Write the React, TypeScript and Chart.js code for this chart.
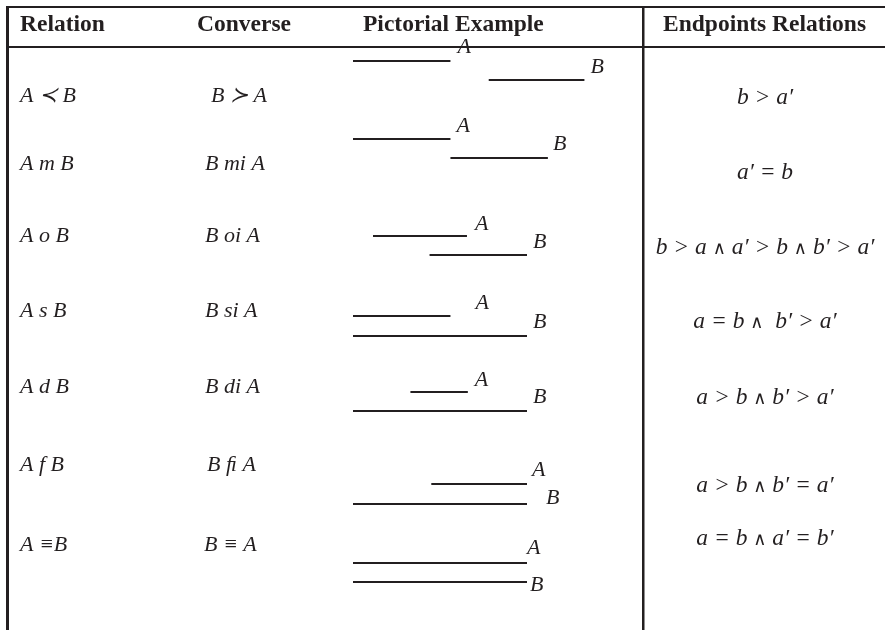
import React, { useEffect, useRef } from "react";
import { Chart, registerables } from "chart.js";

Chart.register(...registerables);

// ---- data ----
const HEADERS = ["Relation", "Converse", "Pictorial Example", "Endpoints Relations"];
const RELATIONS = ["A ≺ B", "A m B", "A o B", "A s B", "A d B", "A f B", "A ≡B"];
const CONVERSES = ["B ≻ A", "B mi A", "B oi A", "B si A", "B di A", "B ﬁ A", "B ≡ A"];
const ENDPOINTS = [
  "b > a′",
  "a′ = b",
  "b > a ∧ a′ > b ∧ b′ > a′",
  "a = b ∧  b′ > a′",
  "a > b ∧ b′ > a′",
  "a > b ∧ b′ = a′",
  "a = b ∧ a′ = b′",
];
// interval endpoints (pictorial units, 0..100 = reference span)
const A_START = [0, 0, 11.5, 0, 33, 45, 0];
const A_END = [56, 56, 65.5, 56, 66, 100, 100];
const B_START = [78, 56, 44, 0, 0, 0, 0];
const B_END = [133, 112, 100, 100, 100, 100, 100];

// ---- layout (pixels) ----
const W = 885;
const H = 630;
const PICT_X0 = 353;
const PX_PER_UNIT = 1.74;
const HEADER_X = [20, 197, 363, 663];
const HEADER_BASE = 31;
const REL_X = 20;
const CONV_X = [211, 205, 205, 205, 205, 207, 204];
const END_CX = 765;
const ROW_TEXT_Y = [96, 164, 236, 311, 387, 465, 545];
const ROW_A_Y = [61, 139, 236, 316, 392, 484, 563];
const ROW_B_Y = [80, 158, 255, 336, 411, 504, 582];
const ROW_END_Y = [96, 171, 246, 320, 396, 484, 537];
const LABEL_A_DX = [7, 6, 8, 25, 7, 5, 0];
const LABEL_A_DY = [-14, -13, -12, -13, -12, -14, -15];
const LABEL_B_DX = [6, 5, 6, 6, 6, 19, 3];
const LABEL_B_DY = [-13, -14, -13, -14, -14, -6, 3];

const INK = "#231f20";
const SERIF = '"Liberation Serif", "DejaVu Serif", serif';
const TEXT_FONT = `italic 22px ${SERIF}`;
const MATH_FONT = `italic 23.5px ${SERIF}`;
const WEDGE_FONT = `18px "DejaVu Sans", sans-serif`;

function drawMath(ctx: any, text: string, cx: number, cy: number) {
  const parts = text.split("∧");
  const segs: { t: string; f: string }[] = [];
  parts.forEach((p, i) => {
    if (i > 0) segs.push({ t: "∧", f: WEDGE_FONT });
    segs.push({ t: p, f: MATH_FONT });
  });
  let total = 0;
  const widths = segs.map((s) => {
    ctx.font = s.f;
    const w = ctx.measureText(s.t).width;
    total += w;
    return w;
  });
  let x = cx - total / 2;
  ctx.textAlign = "left";
  ctx.textBaseline = "alphabetic";
  segs.forEach((s, i) => {
    ctx.font = s.f;
    ctx.fillText(s.t, x, cy + 7.5);
    x += widths[i];
  });
}

const tablePlugin = {
  id: "tableText",
  beforeDatasetsDraw(chart: any) {
    const ctx = chart.ctx;
    ctx.save();
    ctx.fillStyle = INK;
    ctx.fillRect(6, 6, W - 6, 2);
    ctx.fillRect(6, 46, W - 6, 2);
    ctx.fillRect(6, 6, 3, H - 6);
    ctx.fillRect(642, 6, 2.5, H - 6);
    ctx.restore();
  },
  afterDatasetsDraw(chart: any) {
    const ctx = chart.ctx;
    const sx = chart.scales.x;
    const sy = chart.scales.y;
    const sp = chart.scales.xp;
    ctx.save();
    ctx.fillStyle = INK;
    ctx.textAlign = "left";
    ctx.textBaseline = "alphabetic";
    ctx.font = `bold 23.5px ${SERIF}`;
    HEADERS.forEach((h, i) => ctx.fillText(h, sx.getPixelForValue(HEADER_X[i]), sy.getPixelForValue(HEADER_BASE)));

    RELATIONS.forEach((t, i) => {
      ctx.font = TEXT_FONT;
      ctx.textBaseline = "middle";
      ctx.textAlign = "left";
      ctx.fillText(t, sx.getPixelForValue(REL_X), sy.getPixelForValue(ROW_TEXT_Y[i]));
      ctx.fillText(CONVERSES[i], sx.getPixelForValue(CONV_X[i]), sy.getPixelForValue(ROW_TEXT_Y[i]));
      ctx.fillText("A", sp.getPixelForValue(A_END[i]) + LABEL_A_DX[i], sy.getPixelForValue(ROW_A_Y[i]) + LABEL_A_DY[i]);
      ctx.fillText("B", sp.getPixelForValue(B_END[i]) + LABEL_B_DX[i], sy.getPixelForValue(ROW_B_Y[i]) + LABEL_B_DY[i]);
      drawMath(ctx, ENDPOINTS[i], sx.getPixelForValue(END_CX), sy.getPixelForValue(ROW_END_Y[i]));
    });
    ctx.restore();
  },
};

export default function App() {
  const ref = useRef<HTMLCanvasElement | null>(null);
  useEffect(() => {
    if (!ref.current) return;
    const datasets: any[] = [];
    RELATIONS.forEach((_, i) => {
      datasets.push({
        label: `A${i}`,
        data: [
          { x: A_START[i], y: ROW_A_Y[i] },
          { x: A_END[i], y: ROW_A_Y[i] },
        ],
      });
      datasets.push({
        label: `B${i}`,
        data: [
          { x: B_START[i], y: ROW_B_Y[i] },
          { x: B_END[i], y: ROW_B_Y[i] },
        ],
      });
    });
    datasets.forEach((d) => {
      d.showLine = true;
      d.borderColor = INK;
      d.borderWidth = 2;
      d.pointRadius = 0;
      d.fill = false;
      d.xAxisID = "xp";
      d.yAxisID = "y";
    });
    const chart = new Chart(ref.current, {
      type: "scatter",
      data: { datasets },
      options: {
        responsive: false,
        devicePixelRatio: 1,
        animation: false,
        events: [],
        layout: { padding: 0 },
        plugins: { legend: { display: false }, tooltip: { enabled: false } },
        scales: {
          x: { type: "linear", display: false, min: 0, max: W },
          xp: {
            type: "linear",
            axis: "x",
            display: false,
            min: -PICT_X0 / PX_PER_UNIT,
            max: (W - PICT_X0) / PX_PER_UNIT,
          },
          y: { type: "linear", display: false, min: 0, max: H, reverse: true },
        },
      },
      plugins: [tablePlugin],
    } as any);
    return () => chart.destroy();
  }, []);
  return (
    <div style={{ position: "absolute", left: 0, top: 0, width: W, height: H, background: "#fff" }}>
      <canvas ref={ref} width={W} height={H} style={{ display: "block" }} />
    </div>
  );
}
